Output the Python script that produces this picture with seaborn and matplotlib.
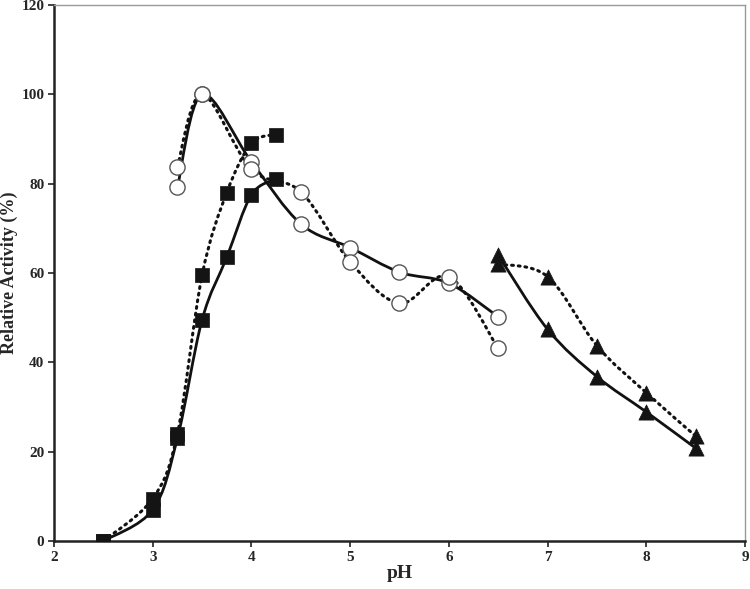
import numpy as np
import matplotlib
matplotlib.use("Agg")
import matplotlib.pyplot as plt
from matplotlib.path import Path
from matplotlib.patches import PathPatch
import seaborn as sns

# pH values and relative activity (%)
ph_sq = [2.5, 3.0, 3.25, 3.5, 3.75, 4.0, 4.25]
sq_solid = [0.0, 7.0, 23.0, 49.5, 63.5, 77.5, 81.0]
sq_dot = [0.0, 9.5, 24.0, 59.5, 78.0, 89.0, 91.0]

ph_ci = [3.25, 3.5, 4.0, 4.5, 5.0, 5.5, 6.0, 6.5]
ci_solid = [79.2, 100.0, 84.9, 71.0, 65.7, 60.2, 57.7, 50.2]
ci_dot = [83.8, 100.0, 83.2, 78.2, 62.5, 53.2, 59.2, 43.1]

ph_tr = [6.5, 7.0, 7.5, 8.0, 8.5]
tr_solid = [64.0, 47.4, 36.8, 28.9, 20.8]
tr_dot = [62.0, 59.2, 43.7, 33.2, 23.5]

x_ticks = [2, 3, 4, 5, 6, 7, 8, 9]
y_ticks = [0, 20, 40, 60, 80, 100, 120]

sns.set_style("ticks")
plt.rcParams['font.family'] = ['Liberation Serif', 'DejaVu Serif']
plt.rcParams['font.weight'] = 'bold'


# Excel-like smoothed line: cubic bezier through the points
def smooth_line(ax, x, y, ls):
    p = np.column_stack([x, y]).astype(float)
    verts = [p[0]]
    codes = [Path.MOVETO]
    n = len(p)
    for i in range(n - 1):
        p0 = p[i - 1] if i > 0 else p[i]
        p3 = p[i + 2] if i + 2 < n else p[i + 1]
        c1 = p[i] + (p[i + 1] - p0) / 6
        c2 = p[i + 1] - (p3 - p[i]) / 6
        verts += [c1, c2, p[i + 1]]
        codes += [Path.CURVE4] * 3
    patch = PathPatch(Path(verts, codes), fill=False, edgecolor='#111111',
                      linewidth=2.0 if ls == '-' else 2.2,
                      linestyle=ls, capstyle='round', zorder=2)
    ax.add_patch(patch)


fig = plt.figure(figsize=(7.5, 5.89), dpi=100)
ax = fig.add_axes([0.072, 0.0815, 0.9213, 0.91])

dot = (0, (0.6, 1.6))
smooth_line(ax, ph_sq, sq_solid, '-')
smooth_line(ax, ph_sq, sq_dot, dot)
smooth_line(ax, ph_ci, ci_solid, '-')
smooth_line(ax, ph_ci, ci_dot, dot)
smooth_line(ax, ph_tr, tr_solid, '-')
smooth_line(ax, ph_tr, tr_dot, dot)

sns.scatterplot(x=ph_sq + ph_sq, y=sq_solid + sq_dot, marker='s', s=110,
                color='#141414', edgecolor='#141414', linewidth=0.5, ax=ax, zorder=3)
sns.scatterplot(x=ph_ci + ph_ci, y=ci_solid + ci_dot, marker='o', s=120,
                color='white', edgecolor='#555555', linewidth=1.0, ax=ax, zorder=3)
sns.scatterplot(x=ph_tr + ph_tr, y=tr_solid + tr_dot, marker='^', s=120,
                color='#141414', edgecolor='#141414', linewidth=0.5, ax=ax, zorder=3)

ax.set_xlim(2, 9)
ax.set_ylim(0, 120)
ax.set_xticks(x_ticks)
ax.set_yticks(y_ticks)
ax.tick_params(axis='both', direction='out', length=4, width=1.2, color='#222222',
               labelsize=11, pad=3)
for lab in ax.get_xticklabels() + ax.get_yticklabels():
    lab.set_fontweight('bold')

for side in ['left', 'bottom']:
    ax.spines[side].set_color('#222222')
    ax.spines[side].set_linewidth(1.8)
for side in ['top', 'right']:
    ax.spines[side].set_visible(True)
    ax.spines[side].set_color('#999999')
    ax.spines[side].set_linewidth(1.0)

ax.set_xlabel('pH', fontsize=14, fontweight='bold', labelpad=1)
ax.set_ylabel('Relative Activity (%)', fontsize=13, fontweight='bold', labelpad=2)

fig.savefig('out.png', dpi=100)
